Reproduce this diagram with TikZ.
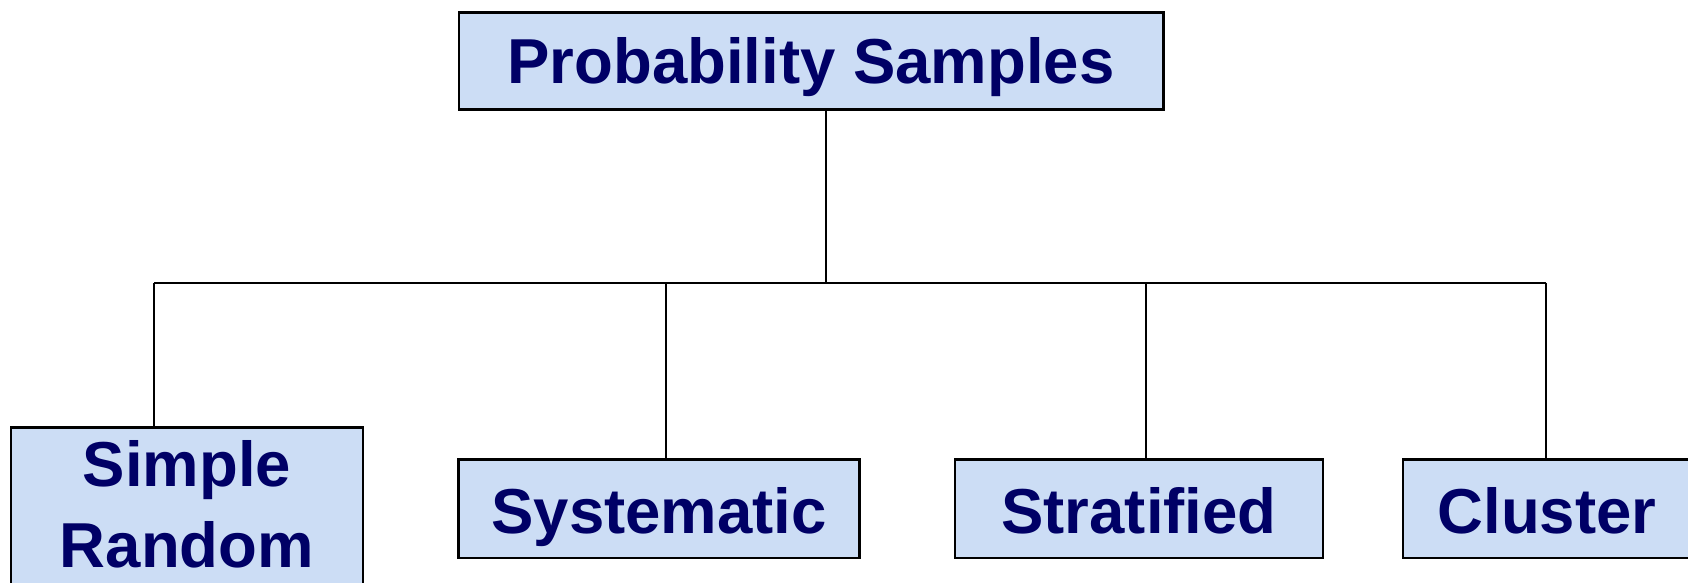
\documentclass[tikz,border=0pt]{standalone}
\usepackage{fontspec}
\setmainfont{Liberation Sans}
\definecolor{boxfill}{RGB}{204,221,245}
\definecolor{navytext}{RGB}{0,0,102}
\tikzset{
  sbox/.style={draw=black, line width=2.6pt, fill=boxfill, text=navytext,
    font=\fontsize{63.5}{81}\selectfont\bfseries, inner xsep=0pt, inner ysep=0pt,
    anchor=north west},
  conn/.style={draw=black, line width=2pt}
}
\begin{document}
\begin{tikzpicture}[x=1pt,y=-1pt]
\useasboundingbox (0,0) rectangle (1688,583);
\clip (0,0) rectangle (1688,583);
\fill[white] (0,0) rectangle (1688,583);
% boxes
\node[sbox, minimum width=704.5pt, text height=71.3pt, text depth=26.2pt] (top) at (457.5,11) {Probability Samples};
\node[sbox, minimum width=352.2pt, text height=59pt, text depth=200pt] (sr) at (9.5,426)
  {\begin{tabular}[t]{@{}c@{}}Simple\\Random\end{tabular}};
\node[sbox, minimum width=401pt, text height=73.7pt, text depth=24.7pt] (sy) at (457.3,458.3) {Systematic};
\node[sbox, minimum width=368.2pt, text height=73.7pt, text depth=24.7pt] (st) at (953.6,458.3) {Stratified};
\node[sbox, minimum width=290pt, text height=73.7pt, text depth=24.7pt, xshift=0pt] (cl) at (1401.7,458.3) {\hspace*{-1pt}Cluster\hspace*{1pt}};
% junction points
\coordinate (j) at (826,282.7);
\coordinate (b1) at (154,282.7);
\coordinate (b2) at (666,282.7);
\coordinate (b3) at (1146,282.7);
\coordinate (b4) at (1546,282.7);
% connectors
\draw[conn] (top.south -| j) -- (j);
\draw[conn] (b1) -- (b4);
\draw[conn] (b1) -- (b1 |- sr.north);
\draw[conn] (b2) -- (b2 |- sy.north);
\draw[conn] (b3) -- (b3 |- st.north);
\draw[conn] (b4) -- (b4 |- cl.north);
\end{tikzpicture}
\end{document}
